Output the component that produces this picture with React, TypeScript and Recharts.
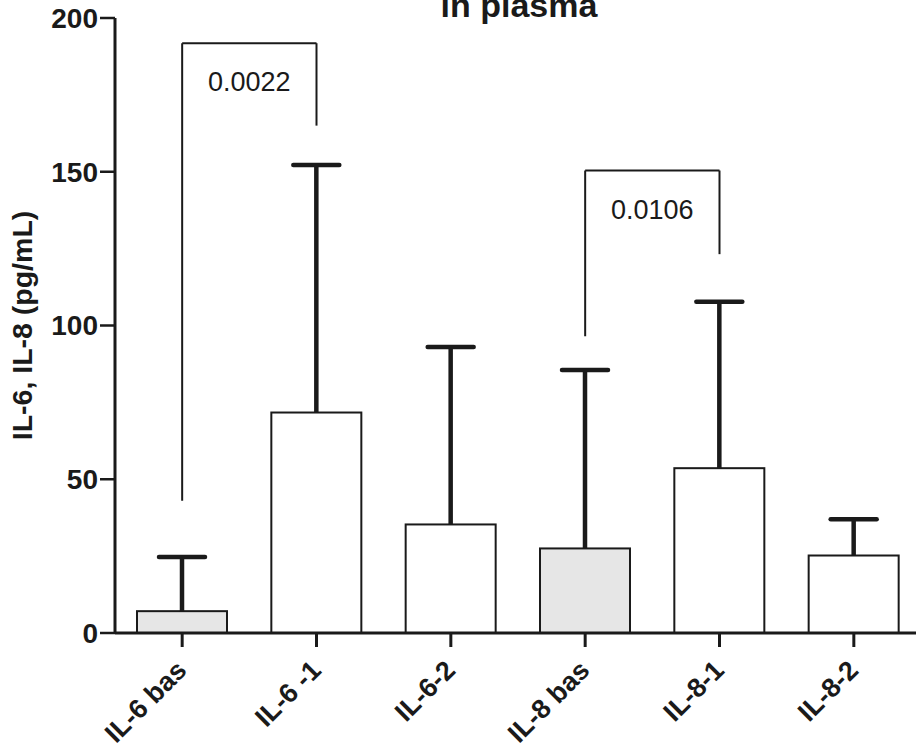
import { BarChart, Bar, XAxis, YAxis, Cell, ReferenceLine } from 'recharts'

const categories = ['IL-6 bas', 'IL-6 -1', 'IL-6-2', 'IL-8 bas', 'IL-8-1', 'IL-8-2']
const means = [7.1, 71.7, 35.3, 27.5, 53.6, 25.2]
const upperSd = [24.7, 152.2, 93, 85.5, 107.7, 37]
const baseline = [true, false, false, true, false, false]
const yTicks = [0, 50, 100, 150, 200]

// significance brackets
const bracketFrom = ['IL-6 bas', 'IL-8 bas']
const bracketTo = ['IL-6 -1', 'IL-8-1']
const bracketTop = [191.8, 150.4]
const bracketFromEnd = [43, 96.5]
const bracketToEnd = [165, 123.2]
const pValues = ['0.0022', '0.0106']

const data = categories.map((name, i) => ({ name, mean: means[i], upper: upperSd[i] }))

const FONT = 'Arial, "Liberation Sans", sans-serif'
const INK = '#1a1a1a'

function BarWithError(props: any) {
  const { x, y, width, height, payload, fill } = props
  const bottom = y + height
  const ppu = height / payload.mean
  const top = bottom - payload.upper * ppu
  const cx = x + width / 2
  return (
    <g>
      <rect x={x} y={y} width={width} height={height} fill={fill} stroke={INK} strokeWidth={2} />
      <line x1={cx} y1={y} x2={cx} y2={top} stroke={INK} strokeWidth={4.5} />
      <line x1={cx - 23} y1={top} x2={cx + 23} y2={top} stroke={INK} strokeWidth={4.5} strokeLinecap="round" />
    </g>
  )
}

function XTick(props: any) {
  const { x, y, payload } = props
  return (
    <g transform={`translate(${x + 6},${y + 23})`}>
      <text transform="rotate(-45)" textAnchor="end" fontSize={27} fontWeight="bold" fontFamily={FONT} fill={INK}>
        {payload.value}
      </text>
    </g>
  )
}

function YLabel(props: any) {
  const { viewBox } = props
  const cy = viewBox.y + viewBox.height / 2
  return (
    <text
      x={22}
      y={cy}
      transform={`rotate(-90, 22, ${cy})`}
      textAnchor="middle"
      dominantBaseline="central"
      fontSize={28.5}
      fontWeight="bold"
      fontFamily={FONT}
      fill={INK}
    >
      IL-6, IL-8 (pg/mL)
    </text>
  )
}

function PLabel(props: any) {
  const { viewBox, text } = props
  return (
    <text x={viewBox.x + viewBox.width / 2} y={viewBox.y + 48} textAnchor="middle" fontSize={27} fontFamily={FONT} fill={INK}>
      {text}
    </text>
  )
}

export default function App() {
  return (
    <div style={{ position: 'absolute', left: 0, top: 0, width: 916, height: 747, overflow: 'hidden', background: '#fff' }}>
      <svg width={916} height={40} style={{ position: 'absolute', left: 0, top: 0 }}>
        <text x={519} y={17} textAnchor="middle" fontSize={34} fontWeight="bold" fontFamily={FONT} fill={INK}>
          in plasma
        </text>
      </svg>
      <BarChart width={930} height={747} data={data} margin={{ top: 18, right: 9, left: 0, bottom: 0 }}>
        <XAxis
          dataKey="name"
          height={114}
          interval={0}
          tickSize={14}
          tick={<XTick />}
          axisLine={{ stroke: INK, strokeWidth: 3 }}
          tickLine={{ stroke: INK, strokeWidth: 3 }}
        />
        <YAxis
          width={115}
          domain={[0, 200]}
          ticks={yTicks}
          tickSize={15}
          tick={{ fontSize: 28, fontWeight: 'bold', fontFamily: FONT, fill: INK }}
          axisLine={{ stroke: INK, strokeWidth: 3 }}
          tickLine={{ stroke: INK, strokeWidth: 2.5 }}
          label={<YLabel />}
        />
        <Bar dataKey="mean" barSize={90} shape={<BarWithError />} isAnimationActive={false}>
          {data.map((d, i) => (
            <Cell key={d.name} fill={baseline[i] ? '#e6e6e6' : '#ffffff'} />
          ))}
        </Bar>
        {pValues.map((p, i) => (
          <ReferenceLine
            key={'top' + i}
            segment={[
              { x: bracketFrom[i], y: bracketTop[i] },
              { x: bracketTo[i], y: bracketTop[i] },
            ]}
            stroke={INK}
            strokeWidth={2}
            label={<PLabel text={p} />}
          />
        ))}
        {pValues.map((p, i) => (
          <ReferenceLine
            key={'l' + i}
            segment={[
              { x: bracketFrom[i], y: bracketTop[i] },
              { x: bracketFrom[i], y: bracketFromEnd[i] },
            ]}
            stroke={INK}
            strokeWidth={2}
          />
        ))}
        {pValues.map((p, i) => (
          <ReferenceLine
            key={'r' + i}
            segment={[
              { x: bracketTo[i], y: bracketTop[i] },
              { x: bracketTo[i], y: bracketToEnd[i] },
            ]}
            stroke={INK}
            strokeWidth={2}
          />
        ))}
      </BarChart>
    </div>
  )
}
